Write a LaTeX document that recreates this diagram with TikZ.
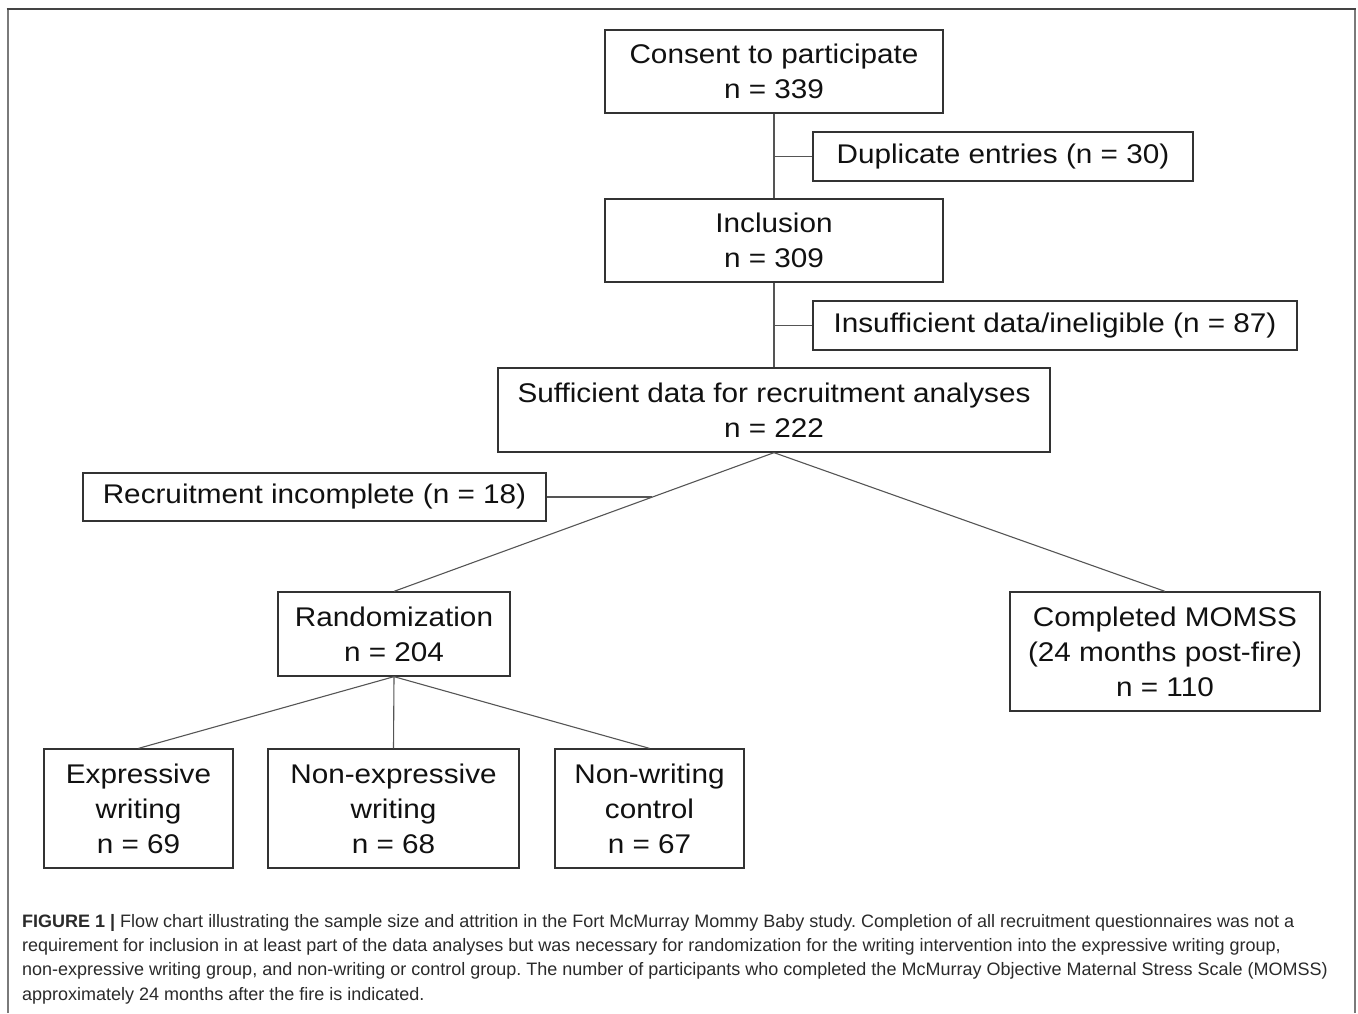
\documentclass[tikz,border=0pt]{standalone}
\usepackage{fontspec}
\setmainfont{Liberation Sans}
\newfontfamily\boxfont[FakeStretch=1.1]{Liberation Sans}
\newfontfamily\capfont{Liberation Sans}
\usetikzlibrary{calc}
\frenchspacing
\definecolor{ink}{HTML}{111111}
\definecolor{edge}{HTML}{333333}
\definecolor{wire}{HTML}{555555}
\definecolor{frame}{HTML}{7A7A7A}
\definecolor{framedark}{HTML}{444444}
\definecolor{captext}{HTML}{2A2A2A}
\tikzset{
  stage/.style={
    draw=edge, line width=1.3pt, fill=white, inner sep=0pt,
    align=center, text=ink, font=\boxfont\fontsize{27}{35}\selectfont,
  },
  link/.style={draw=wire, line width=1.1pt},
  capline/.style={anchor=base west, inner sep=0pt, text=captext,
                  font=\capfont\fontsize{18}{24}\selectfont},
}
\begin{document}
\begin{tikzpicture}[x=1pt, y=-1pt]
  \useasboundingbox (0,0) rectangle (1358,1013);

  % frame round the figure
  \draw[frame, line width=2pt] (7.5,1013) -- (7.5,8.5);
  \draw[frame, line width=2pt] (1355,1013) -- (1355,8.5);
  \draw[framedark, line width=2pt] (6.5,8.5) -- (1356,8.5);

  % main column
  \node[stage, minimum width=338pt, minimum height=83pt] (consent) at (774,71.5)
    {Consent to participate\\n = 339};
  \node[stage, minimum width=380pt, minimum height=49pt] (dup) at (1003,156.5)
    {Duplicate entries (n = 30)};
  \node[stage, minimum width=338pt, minimum height=83pt] (incl) at (774,240.5)
    {Inclusion\\n = 309};
  \node[stage, minimum width=484pt, minimum height=49pt] (insuf) at (1055,325.5)
    {Insufficient data/ineligible (n = 87)};
  \node[stage, minimum width=552pt, minimum height=84pt] (suff) at (774,410)
    {Sufficient data for recruitment analyses\\n = 222};
  \node[stage, minimum width=463pt, minimum height=48pt] (recinc) at (314.5,497)
    {Recruitment incomplete (n = 18)};

  % second level
  \node[stage, minimum width=232pt, minimum height=84pt] (rand) at (394,634)
    {Randomization\\n = 204};
  \node[stage, minimum width=310pt, minimum height=119pt] (momss) at (1165,651.5)
    {Completed MOMSS\\(24 months post-fire)\\n = 110};

  % writing groups
  \node[stage, minimum width=189pt, minimum height=119pt] (expr) at (138.5,808.5)
    {Expressive\\writing\\n = 69};
  \node[stage, minimum width=251pt, minimum height=119pt] (nonexp) at (393.5,808.5)
    {Non-expressive\\writing\\n = 68};
  \node[stage, minimum width=189pt, minimum height=119pt] (nonwr) at (649.5,808.5)
    {Non-writing\\control\\n = 67};

  % connectors
  \draw[link] (consent.south) -- (incl.north);
  \draw[link] (dup.west) -- (dup.west -| consent.south);
  \draw[link] (incl.south) -- (suff.north);
  \draw[link] (insuf.west) -- (insuf.west -| incl.south);
  \draw[link] (suff.south) -- (rand.north);
  \draw[link] (suff.south) -- (momss.north);
  \coordinate (split) at ($(suff.south)!0.321!(rand.north)$);
  \draw[link] (recinc.east) -- (recinc.east -| split);
  \foreach \g in {expr, nonexp, nonwr}
    \draw[link] (rand.south) -- (\g.north);

  % caption
  \foreach \i/\y/\txt in {
    1/927/{\textbf{FIGURE 1 |} Flow chart illustrating the sample size and attrition in the Fort McMurray Mommy Baby study. Completion of all recruitment questionnaires was not a},
    2/951/{requirement for inclusion in at least part of the data analyses but was necessary for randomization for the writing intervention into the expressive writing group,},
    3/975/{non-expressive writing group, and non-writing or control group. The number of participants who completed the McMurray Objective Maternal Stress Scale (MOMSS)},
    4/1000/{approximately 24 months after the fire is indicated.}} {
    \node[capline] (cap\i) at (22,\y) {\txt};
  }

\end{tikzpicture}
\end{document}
